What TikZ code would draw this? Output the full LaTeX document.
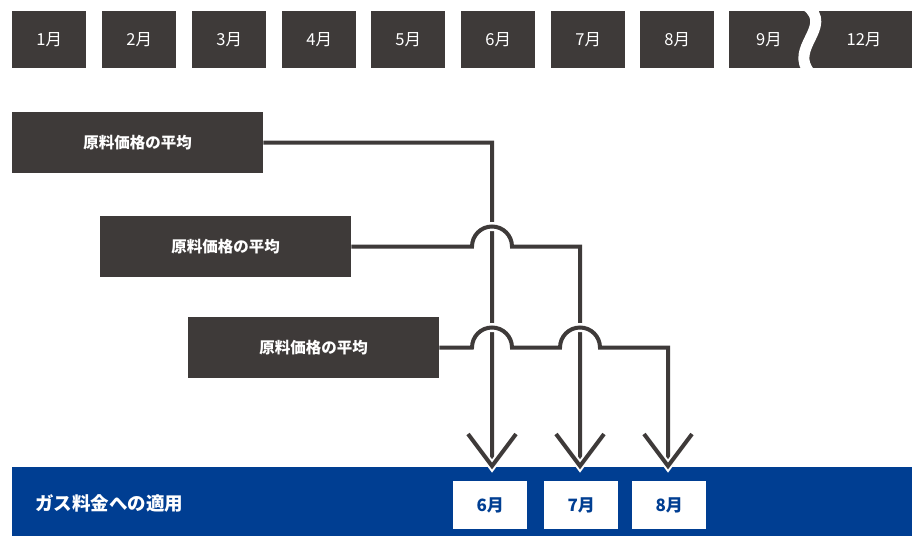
\documentclass[tikz,border=0pt]{standalone}
\usepackage{fontspec}
\setmainfont{Noto Sans CJK JP}
\definecolor{dark}{HTML}{3E3A39}
\definecolor{bandblue}{HTML}{003E92}
\begin{document}
\begin{tikzpicture}[x=1pt,y=-1pt,
  mon/.style={fill=dark,text=white,minimum width=74pt,minimum height=57pt,inner sep=0pt,anchor=north west,font=\fontsize{16.5}{17}\selectfont},
  monlabel/.style={text=white,inner sep=0pt,font=\fontsize{16.5}{17}\selectfont},
  src/.style={fill=dark,text=white,minimum width=251pt,minimum height=61pt,inner sep=0pt,anchor=north west,font=\bfseries\fontsize{15.5}{16}\selectfont},
  wline/.style={draw=dark,line width=4pt,line join=miter},
  halo/.style={preaction={draw=white,line width=9pt}},
  head/.style={draw=dark,line width=4pt,line join=miter,preaction={draw=white,line width=8pt}},
  tag/.style={fill=white,text=bandblue,minimum width=74pt,minimum height=48pt,inner sep=0pt,anchor=north west,font=\bfseries\fontsize{17}{17}\selectfont}
]
\useasboundingbox (0,0) rectangle (912,536);
% month boxes
\node[mon] (m1) at (12,11) {1月};
\node[mon] (m2) at (102,11) {2月};
\node[mon] (m3) at (192,11) {3月};
\node[mon] (m4) at (282,11) {4月};
\node[mon] (m5) at (371,11) {5月};
\node[mon] (m6) at (461,11) {6月};
\node[mon] (m7) at (551,11) {7月};
\node[mon] (m8) at (640,11) {8月};
\node[mon,minimum width=183pt] (m912) at (729,11) {};
\node[monlabel] (m9) at (769,40) {9月};
\node[monlabel] (m12) at (864,40) {12月};
\draw[white,line width=11pt] (807,6) .. controls (834,27) and (788,48) .. (810,73);
% source boxes
\node[src] (s1) at (12,112) {原料価格の平均};
\node[src] (s2) at (100,216) {原料価格の平均};
\node[src] (s3) at (188,317) {原料価格の平均};
% band
\node[fill=bandblue,anchor=north west,minimum width=900pt,minimum height=69pt,inner sep=0pt] (band) at (12,467) {};
\node[anchor=west,text=white,inner sep=0pt,font=\bfseries\fontsize{18.5}{19}\selectfont] (bandtext) at (35,503) {ガス料金への適用};
\node[tag] (t6) at (453,481) {6月};
\node[tag] (t7) at (544,481) {7月};
\node[tag] (t8) at (632,481) {8月};
% arrow tips
\coordinate (a1) at (492,466);
\coordinate (a2) at (580,466);
\coordinate (a3) at (668,466);
% connectors
\draw[wline] (s1.east) -- (492,142.5) -- (a1);
\draw[wline,halo] (s2.east) -- (472,246.5) arc[start angle=180,end angle=360,radius=20] -- (580,246.5) -- (a2);
\draw[wline,halo] (s3.east) -- (472,347.5) arc[start angle=180,end angle=360,radius=20] -- (560,347.5) arc[start angle=180,end angle=360,radius=20] -- (668,347.5) -- (a3);
\draw[head] (a1) ++(-24,-32) -- (a1) -- ++(24,-32);
\draw[head] (a2) ++(-24,-32) -- (a2) -- ++(24,-32);
\draw[head] (a3) ++(-24,-32) -- (a3) -- ++(24,-32);
\end{tikzpicture}
\end{document}
